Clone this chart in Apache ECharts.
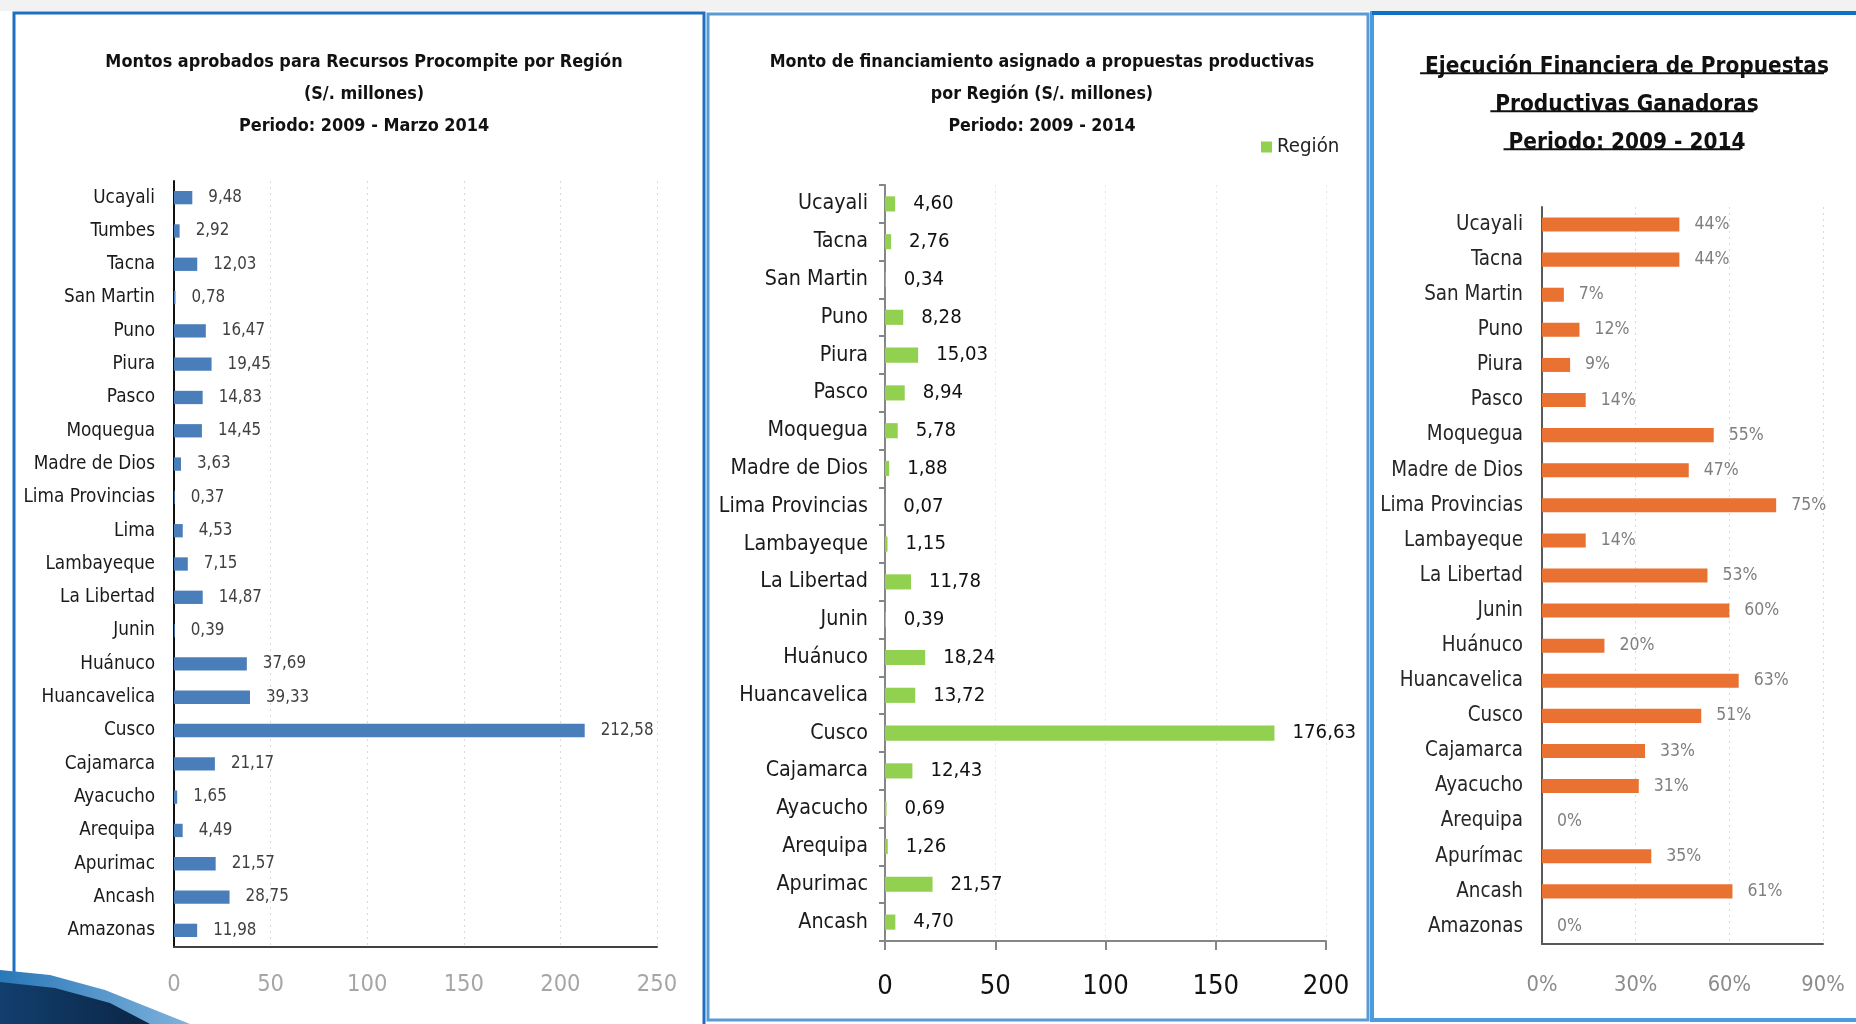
<!DOCTYPE html>
<html><head><meta charset="utf-8">
<script src="https://cdn.jsdelivr.net/npm/echarts@6/dist/echarts.min.js"></script>
<style>html,body{margin:0;padding:0;background:#fff}#c{width:1856px;height:1024px}</style>
</head><body><div id="c"></div>
<script>
// ---------- DATA ----------
const title1 = ['Montos aprobados para Recursos Procompite por Región', '(S/. millones)', 'Periodo: 2009 - Marzo 2014'];
const cat1 = ['Ucayali','Tumbes','Tacna','San Martin','Puno','Piura','Pasco','Moquegua','Madre de Dios','Lima Provincias','Lima','Lambayeque','La Libertad','Junin','Huánuco','Huancavelica','Cusco','Cajamarca','Ayacucho','Arequipa','Apurimac','Ancash','Amazonas'];
const val1 = [9.48,2.92,12.03,0.78,16.47,19.45,14.83,14.45,3.63,0.37,4.53,7.15,14.87,0.39,37.69,39.33,212.58,21.17,1.65,4.49,21.57,28.75,11.98];
const axis1 = {min:0, max:250, interval:50};

const title2 = ['Monto de financiamiento asignado a propuestas productivas', 'por Región (S/. millones)', 'Periodo: 2009 - 2014'];
const legend2 = 'Región';
const cat2 = ['Ucayali','Tacna','San Martin','Puno','Piura','Pasco','Moquegua','Madre de Dios','Lima Provincias','Lambayeque','La Libertad','Junin','Huánuco','Huancavelica','Cusco','Cajamarca','Ayacucho','Arequipa','Apurimac','Ancash'];
const val2 = [4.60,2.76,0.34,8.28,15.03,8.94,5.78,1.88,0.07,1.15,11.78,0.39,18.24,13.72,176.63,12.43,0.69,1.26,21.57,4.70];
const axis2 = {min:0, max:200, interval:50};

const title3 = ['Ejecución Financiera de Propuestas', 'Productivas Ganadoras', 'Periodo: 2009 - 2014'];
const cat3 = ['Ucayali','Tacna','San Martin','Puno','Piura','Pasco','Moquegua','Madre de Dios','Lima Provincias','Lambayeque','La Libertad','Junin','Huánuco','Huancavelica','Cusco','Cajamarca','Ayacucho','Arequipa','Apurímac','Ancash','Amazonas'];
const val3 = [44,44,7,12,9,14,55,47,75,14,53,60,20,63,51,33,31,0,35,61,0];
const axis3 = {min:0, max:90, interval:30};

// ---------- STYLE HELPERS ----------
const FONT = "'DejaVu Sans Condensed','Liberation Sans',sans-serif";
const comma = v => v.toFixed(2).replace('.', ',');
const ctx = document.createElement('canvas').getContext('2d');
function fit(text, target, weight) {
  ctx.font = (weight || 'normal') + ' 40px ' + FONT;
  return Math.round(400 * 1.06 * target / ctx.measureText(text).width) / 10;
}
const sz = {
  t1: fit(title1[0], 487, 'bold'),
  t2: fit(title2[0], 513, 'bold'),
  t3: fit(title3[0], 381, 'bold'),
  c1: fit('Lima Provincias', 124), c2: fit('Lima Provincias', 141), c3: fit('Lima Provincias', 135),
  v1: fit('212,58', 50), v2: fit('176,63', 60), v3: fit('75%', 33),
  k1: fit('250', 38), k2: fit('200', 44), k3: fit('90%', 41),
  lg: fit('Región', 59)
};

const chart = echarts.init(document.getElementById('c'));

const t3 = {cx:1622, top:43, lh:38};
ctx.font = 'bold ' + sz.t3 + 'px ' + FONT;
const underlines = title3.map((t, i) => {
  const w = ctx.measureText(t).width;
  const y = t3.top + i * t3.lh + t3.lh / 2 + sz.t3 * 0.5;
  return {type:'line', shape:{x1:t3.cx - w/2, y1:y, x2:t3.cx + w/2, y2:y}, style:{stroke:'#111', lineWidth:2}, z:10};
});

const grayGrid = {show:true, lineStyle:{color:'#d9d9d9', type:[2,4], width:1}};

const option = {
  animation:false,
  backgroundColor:'#ffffff',
  textStyle:{fontFamily:FONT},
  title:[
    {text:title1.join('\n'), left:359, top:41, textAlign:'center',
     textStyle:{fontFamily:FONT, fontSize:sz.t1, fontWeight:'bold', color:'#111', lineHeight:32}},
    {text:title2.join('\n'), left:1037, top:41, textAlign:'center',
     textStyle:{fontFamily:FONT, fontSize:sz.t2, fontWeight:'bold', color:'#111', lineHeight:32}},
    {text:title3.join('\n'), left:t3.cx, top:t3.top, textAlign:'center',
     textStyle:{fontFamily:FONT, fontSize:sz.t3, fontWeight:'bold', color:'#111', lineHeight:t3.lh}}
  ],
  legend:{data:[legend2], left:1256, top:132, icon:'rect', itemWidth:11, itemHeight:11, itemGap:6,
    textStyle:{fontFamily:FONT, fontSize:sz.lg, color:'#222'}},
  grid:[
    {left:174, right:1199, top:181, bottom:77},
    {left:885, right:530, top:185, bottom:83},
    {left:1542, right:33, top:207, bottom:80}
  ],
  xAxis:[
    {gridIndex:0, type:'value', min:axis1.min, max:axis1.max, interval:axis1.interval,
     axisLine:{show:true, lineStyle:{color:'#404040', width:2}}, axisTick:{show:false},
     axisLabel:{fontFamily:FONT, fontSize:sz.k1, color:'#a6a6a6', margin:26}, splitLine:grayGrid},
    {gridIndex:1, type:'value', min:axis2.min, max:axis2.max, interval:axis2.interval,
     axisLine:{show:true, lineStyle:{color:'#868686', width:2}}, axisTick:{show:true, length:9, lineStyle:{color:'#868686', width:2}},
     axisLabel:{fontFamily:FONT, fontSize:sz.k2, color:'#111', margin:32}, splitLine:{show:true, lineStyle:{color:'#e6e6e6', type:[2,4], width:1}}},
    {gridIndex:2, type:'value', min:axis3.min, max:axis3.max, interval:axis3.interval,
     axisLine:{show:true, lineStyle:{color:'#595959', width:2}}, axisTick:{show:false},
     axisLabel:{fontFamily:FONT, fontSize:sz.k3, color:'#8c8c8c', margin:30, formatter:v => v + '%'}, splitLine:grayGrid}
  ],
  yAxis:[
    {gridIndex:0, type:'category', data:cat1, inverse:true,
     axisLine:{show:true, lineStyle:{color:'#111', width:2}}, axisTick:{show:false},
     axisLabel:{fontFamily:FONT, fontSize:sz.c1, color:'#1a1a1a', margin:19}},
    {gridIndex:1, type:'category', data:cat2, inverse:true,
     axisLine:{show:true, lineStyle:{color:'#868686', width:2}}, axisTick:{show:true, length:6, lineStyle:{color:'#868686', width:2}},
     axisLabel:{fontFamily:FONT, fontSize:sz.c2, color:'#1a1a1a', margin:17}},
    {gridIndex:2, type:'category', data:cat3, inverse:true,
     axisLine:{show:true, lineStyle:{color:'#595959', width:2}}, axisTick:{show:false},
     axisLabel:{fontFamily:FONT, fontSize:sz.c3, color:'#262626', margin:19}}
  ],
  series:[
    {name:'Montos', type:'bar', xAxisIndex:0, yAxisIndex:0, data:val1, barWidth:'40%',
     itemStyle:{color:'#4A7EBB'},
     label:{show:true, position:'right', distance:16, fontFamily:FONT, fontSize:sz.v1, color:'#404040', formatter:p => comma(p.value)}},
    {name:legend2, type:'bar', xAxisIndex:1, yAxisIndex:1, data:val2, barWidth:'40%',
     itemStyle:{color:'#92D050'},
     label:{show:true, position:'right', distance:18, fontFamily:FONT, fontSize:sz.v2, color:'#111', formatter:p => comma(p.value)}},
    {name:'Ejecución', type:'bar', xAxisIndex:2, yAxisIndex:2, data:val3, barWidth:'40%',
     itemStyle:{color:'#E97132'},
     label:{show:true, position:'right', distance:15, fontFamily:FONT, fontSize:sz.v3, color:'#7f7f7f', formatter:p => p.value + '%'}}
  ],
  graphic:[
    {type:'rect', shape:{x:0, y:0, width:1856, height:11}, style:{fill:'#f2f2f2'}, z:-1},
    {type:'rect', shape:{x:14, y:13, width:690, height:1020}, style:{fill:null, stroke:'#1F6FC0', lineWidth:3}, z:5},
    {type:'rect', shape:{x:708, y:14, width:660, height:1006}, style:{fill:null, stroke:'#5B9BD5', lineWidth:3}, z:5},
    {type:'rect', shape:{x:1372, y:13, width:500, height:1007}, style:{fill:null, stroke:'#4A9BE0', lineWidth:4}, z:5},
    {type:'line', shape:{x1:1372, y1:13, x2:1856, y2:13}, style:{stroke:'#1070C8', lineWidth:4}, z:6},
    {type:'polygon', shape:{points:[[0,970],[50,975],[105,990],[160,1012],[190,1024],[0,1024]]},
     style:{fill:new echarts.graphic.LinearGradient(0,0,1,0,[{offset:0,color:'#2a78b8'},{offset:1,color:'#7fb2dc'}])}, z:7},
    {type:'polygon', shape:{points:[[0,982],[55,988],[110,1003],[150,1024],[0,1024]]},
     style:{fill:new echarts.graphic.LinearGradient(0,0,1,0,[{offset:0,color:'#123f6e'},{offset:1,color:'#0b2545'}])}, z:8}
  ].concat(underlines)
};
chart.setOption(option);
</script></body></html>
